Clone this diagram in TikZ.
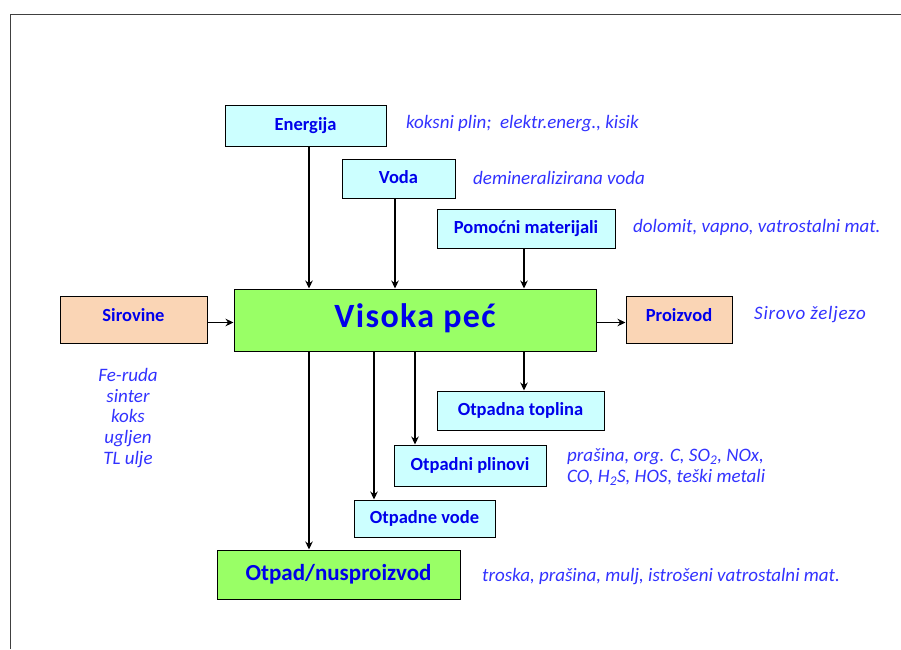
\documentclass[tikz,border=0pt]{standalone}
\usepackage{fontspec}
\setmainfont{Carlito}
\usepackage{xcolor}
\usetikzlibrary{arrows.meta}

\definecolor{boxtext}{RGB}{0,0,235}
\definecolor{notetext}{RGB}{50,50,255}
\definecolor{lightcyan}{RGB}{204,255,255}
\definecolor{peach}{RGB}{250,213,181}
\definecolor{limegreen}{RGB}{153,255,102}
\definecolor{framegray}{RGB}{64,64,64}

\tikzset{
  box/.style={draw=black, line width=1pt, inner sep=0pt, text=boxtext,
    text height=13pt, text depth=4pt,
    font=\fontsize{18.5}{20}\selectfont\bfseries},
  inbox/.style={box, fill=lightcyan},
  endbox/.style={box, fill=peach, text depth=10pt},
  mainbox/.style={box, fill=limegreen},
  note/.style={anchor=west, inner sep=0pt, text=notetext,
    font=\fontsize{19}{20.7}\selectfont\itshape},
  arr/.style={line width=1.8pt, -{Stealth[length=8pt,width=7.5pt]}},
}

\begin{document}
\begin{tikzpicture}[x=1pt, y=-1pt]
  \useasboundingbox (0,0) rectangle (901,649);
  \draw[framegray, line width=1pt] (10,649) -- (10,14) -- (901,14);

  % ulazi odozgo
  \node[inbox, minimum width=161pt, minimum height=41pt] (energija) at (305.5,125.5) {Energija};
  \node[inbox, minimum width=113pt, minimum height=39pt] (voda) at (398.5,178.5) {Voda};
  \node[inbox, minimum width=178pt, minimum height=39pt] (pomocni) at (526,228.5) {Pomoćni materijali};

  % glavni tok
  \node[endbox, minimum width=147pt, minimum height=47pt] (sirovine) at (133.5,319.5) {Sirovine};
  \node[mainbox, minimum width=362pt, minimum height=62pt, text height=23pt, text depth=8pt,
    font=\fontsize{34}{36}\selectfont\bfseries\addfontfeature{LetterSpace=4}] (vp) at (415,320) {Visoka peć};
  \node[endbox, minimum width=106pt, minimum height=47pt] (proizvod) at (679,319.5) {Proizvod};

  % izlazi
  \node[inbox, minimum width=167pt, minimum height=39pt] (toplina) at (520.5,410.5) {Otpadna toplina};
  \node[inbox, minimum width=152pt, minimum height=41pt] (plinovi) at (470,465.5) {Otpadni plinovi};
  \node[inbox, minimum width=141pt, minimum height=37pt] (vode) at (424.5,518.5) {Otpadne vode};
  \node[mainbox, minimum width=243pt, minimum height=49pt, text height=16pt, text depth=5pt,
    font=\fontsize{23}{25}\selectfont\bfseries] (otpad) at (338.5,574.5) {Otpad/nusproizvod};

  % strelice
  \draw[arr] (energija.south -| 309,0) -- (vp.north -| 309,0);
  \draw[arr] (voda.south -| 395,0) -- (vp.north -| 395,0);
  \draw[arr] (pomocni.south -| 524,0) -- (vp.north -| 524,0);
  \draw[arr] (sirovine.east |- 0,322.5) -- (vp.west |- 0,322.5);
  \draw[arr] (vp.east |- 0,322.5) -- (proizvod.west |- 0,322.5);
  \draw[arr] (vp.south -| 309,0) -- (otpad.north -| 309,0);
  \draw[arr] (vp.south -| 374,0) -- (vode.north -| 374,0);
  \draw[arr] (vp.south -| 415,0) -- (plinovi.north -| 415,0);
  \draw[arr] (vp.south -| 524,0) -- (toplina.north -| 524,0);

  % opisi
  \node[note] (energijanote) at (406,124) {koksni plin;~ elektr.energ., kisik};
  \node[note] (vodanote) at (473,178) {demineralizirana voda};
  \node[note] (pomocninote) at (633,227) {dolomit, vapno, vatrostalni mat.};
  \node[note, font=\fontsize{19}{20.7}\selectfont\itshape\addfontfeature{LetterSpace=4}]
    (proizvodnote) at (754,315) {Sirovo željezo};
  \node[note, anchor=center, align=center] (sirovinenote) at (128,418)
    {Fe-ruda\\sinter\\koks\\ugljen\\TL ulje};
  \node[note, align=left] (plinovinote) at (567,467)
    {prašina, org. C, SO\textsubscript{2}, NOx,\\CO, H\textsubscript{2}S, HOS, teški metali};
  \node[note] (otpadnote) at (482,577) {troska, prašina, mulj, istrošeni vatrostalni mat.};
\end{tikzpicture}
\end{document}
